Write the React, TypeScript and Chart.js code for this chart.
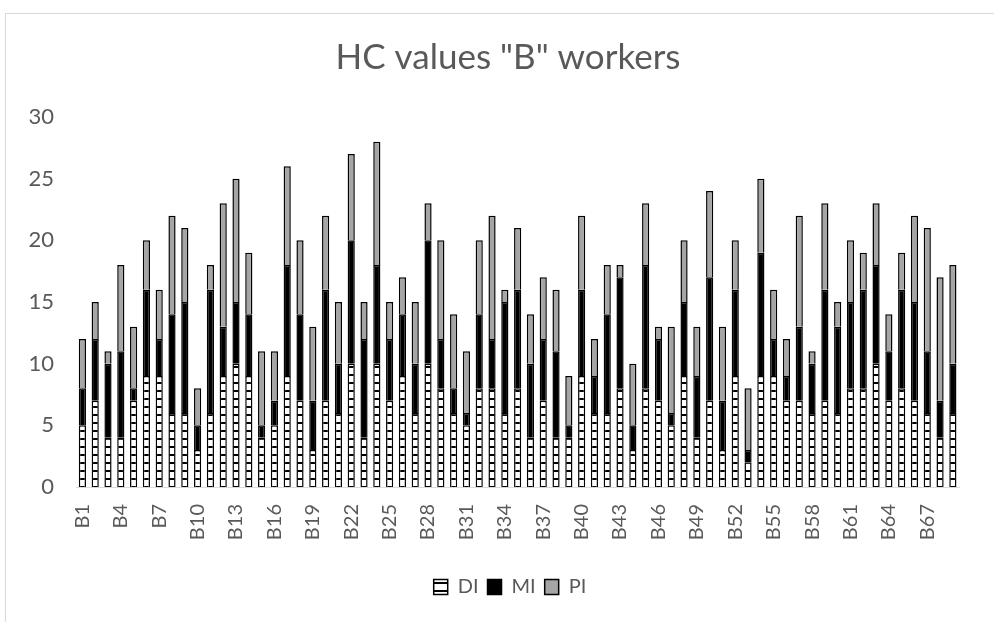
import React, { useEffect, useRef } from "react";
import { Chart, registerables } from "chart.js";

Chart.register(...registerables);

const categories: string[] = Array.from({ length: 69 }, (_, i) => `B${i + 1}`);

const DI = [5, 7, 4, 4, 7, 9, 9, 6, 6, 3, 6, 9, 10, 9, 4, 5, 9, 7, 3, 7, 6, 10, 4, 10, 7, 9, 6, 10, 8, 6, 5, 8, 8, 6, 8, 4, 7, 4, 4, 9, 6, 6, 8, 3, 8, 7, 5, 9, 4, 7, 3, 9, 2, 9, 9, 7, 7, 6, 7, 6, 8, 8, 10, 7, 8, 7, 6, 4, 6];
const MI = [3, 5, 6, 7, 1, 7, 3, 8, 9, 2, 10, 4, 5, 5, 1, 2, 9, 7, 4, 9, 4, 10, 8, 8, 5, 5, 4, 10, 4, 2, 1, 6, 4, 9, 8, 6, 5, 7, 1, 7, 3, 8, 9, 2, 10, 5, 1, 6, 5, 10, 4, 7, 1, 10, 3, 2, 6, 4, 9, 7, 7, 8, 8, 4, 8, 8, 5, 3, 4];
const PI = [4, 3, 1, 7, 5, 4, 4, 8, 6, 3, 2, 10, 10, 5, 6, 4, 8, 6, 6, 6, 5, 7, 3, 10, 3, 3, 5, 3, 8, 6, 5, 6, 10, 1, 5, 4, 5, 5, 4, 6, 3, 4, 1, 5, 5, 1, 7, 5, 4, 7, 6, 4, 5, 6, 4, 3, 9, 1, 7, 2, 5, 3, 5, 3, 3, 7, 10, 10, 8];

const TITLE = 'HC values "B" workers';
const TEXT_COLOR = "#595959";
const FONT = "Lato";

function makeDiPattern(): CanvasPattern | string {
  const c = document.createElement("canvas");
  c.width = 4;
  c.height = 8;
  const g = c.getContext("2d");
  if (!g) return "#ffffff";
  g.fillStyle = "#ffffff";
  g.fillRect(0, 0, 4, 8);
  g.fillStyle = "#000000";
  g.fillRect(0, 6, 4, 2);
  const p = g.createPattern(c, "repeat");
  return p || "#ffffff";
}

const boxShift = {
  id: "boxShift",
  afterLayout(chart: any) {
    const lg = chart.legend;
    if (lg) {
      lg.left += 22;
      lg.right += 22;
    }
    const tt = chart.titleBlock;
    if (tt) {
      tt.left += 20;
      tt.right += 20;
    }
  },
};

export default function App() {
  const ref = useRef<HTMLCanvasElement>(null);

  useEffect(() => {
    if (!ref.current) return;
    const diFill = makeDiPattern();
    const chart = new Chart(ref.current, {
      type: "bar",
      data: {
        labels: categories,
        datasets: [
          { label: "DI", data: DI, backgroundColor: diFill as any, borderColor: "#000000", borderWidth: 1.5 },
          { label: "MI", data: MI, backgroundColor: "#000000", borderColor: "#000000", borderWidth: 1.5 },
          { label: "PI", data: PI, backgroundColor: "#a5a5a5", borderColor: "#000000", borderWidth: 1.5 },
        ],
      },
      options: {
        responsive: false,
        animation: false,
        datasets: { bar: { categoryPercentage: 1, barPercentage: 0.56 } },
        layout: { padding: { left: 0, right: 18, top: 0, bottom: 15 } },
        plugins: {
          title: {
            display: true,
            text: TITLE,
            color: TEXT_COLOR,
            font: { family: FONT, size: 35, weight: "normal" },
            padding: { top: 37, bottom: 38 },
          },
          legend: {
            position: "bottom",
            labels: {
              color: TEXT_COLOR,
              font: { family: FONT, size: 20 },
              boxWidth: 14,
              boxHeight: 15,
              padding: 9,
            },
          },
          tooltip: { enabled: false },
        },
        scales: {
          x: {
            stacked: true,
            grid: { display: false, drawTicks: false },
            border: { display: true, color: "#d9d9d9", width: 1 },
            ticks: {
              autoSkip: false,
              maxRotation: 90,
              minRotation: 90,
              padding: 17,
              color: TEXT_COLOR,
              font: { family: FONT, size: 20 },
              callback: (_v: any, i: number) => (i % 3 === 0 ? categories[i] : ""),
            },
            afterFit: (s: any) => {
              s.height = 81;
            },
          },
          y: {
            stacked: true,
            min: 0,
            max: 30,
            ticks: { stepSize: 5, padding: 22, color: TEXT_COLOR, font: { family: FONT, size: 22 } },
            grid: { display: false, drawTicks: false },
            border: { display: false },
            afterFit: (s: any) => {
              s.width = 76;
            },
          },
        },
      } as any,
      plugins: [boxShift],
    });
    return () => chart.destroy();
  }, []);

  return (
    <div style={{ position: "fixed", left: 0, top: 0, width: 994, height: 622, background: "#ffffff", overflow: "hidden" }}>
      <div style={{ position: "absolute", left: 5, top: 13, width: 1000, height: 700, border: "1px solid #d9d9d9" }} />
      <canvas ref={ref} width={994} height={622} style={{ position: "absolute", left: 0, top: 0 }} />
    </div>
  );
}
